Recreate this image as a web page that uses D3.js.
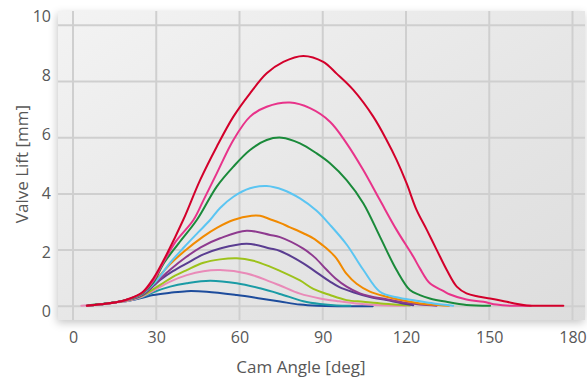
<!DOCTYPE html>
<html>
<head>
<meta charset="utf-8">
<script src="https://cdn.jsdelivr.net/npm/d3@7"></script>
<style>
  html, body { margin: 0; padding: 0; background: #ffffff; }
  svg { display: block; }
  text { font-family: "Open Sans", "Noto Sans", sans-serif; fill: #575757; }
</style>
</head>
<body>
<svg id="chart" width="587" height="381"></svg>
<script>
// ---- data (angle in deg, lift in mm) ----
const xTicks = [0, 30, 60, 90, 120, 150, 180];
const yTicks = [0, 2, 4, 6, 8, 10];
const xTitle = "Cam Angle [deg]";
const yTitle = "Valve Lift [mm]";

const liftDarkBlue = [[5,0.02],[10,0.07],[16,0.15],[20,0.2],[25,0.3],[28.9,0.4],[35,0.48],[41,0.54],[48.2,0.52],[59,0.4],[67.4,0.28],[74.6,0.17],[81.8,0.06],[88,0.02],[108,0.0]];
const liftTeal = [[5,0.02],[10,0.07],[16,0.15],[20,0.2],[25,0.33],[28.9,0.5],[35,0.7],[41,0.82],[49.4,0.91],[59,0.82],[67.4,0.64],[74.6,0.44],[83,0.18],[89,0.08],[95,0.03],[100,0.02]];
const liftLightPink = [[3,0.02],[10,0.07],[16,0.14],[20,0.2],[25,0.35],[28.9,0.55],[35,0.88],[41,1.11],[47,1.25],[53,1.29],[62.6,1.17],[71,0.88],[74.6,0.74],[81.8,0.45],[89,0.28],[95,0.19],[102,0.1],[109,0.05],[120,0.02]];
const liftYellowGreen = [[5,0.02],[10,0.07],[16,0.15],[20,0.22],[25,0.38],[31.4,0.76],[36,1.05],[41,1.29],[47,1.55],[53,1.67],[59,1.71],[65,1.62],[71,1.41],[74.6,1.26],[81.8,0.92],[86.6,0.62],[92.6,0.4],[98.6,0.22],[104.6,0.16],[112,0.09],[121.4,0.03]];
const liftIndigo = [[5,0.02],[10,0.07],[16,0.15],[20,0.23],[25,0.4],[31.4,0.94],[36,1.25],[41,1.53],[47,1.85],[53,2.06],[62.6,2.23],[71,2.06],[74.6,1.97],[83,1.53],[86.6,1.29],[92.6,0.88],[96,0.68],[101,0.5],[107,0.33],[113,0.22],[118,0.12],[122.6,0.04]];
const liftPurple = [[5,0.02],[10,0.07],[16,0.15],[20,0.24],[25,0.42],[30,0.85],[35,1.3],[41,1.77],[46,2.1],[53,2.42],[62.6,2.69],[71,2.54],[74.6,2.46],[83,2.05],[87,1.75],[91.4,1.3],[94.5,1.0],[98.6,0.7],[103.4,0.46],[107,0.36],[113,0.25],[119,0.14],[125,0.06],[131,0.02]];
const liftOrange = [[5,0.02],[10,0.07],[16,0.15],[20,0.24],[25,0.45],[30,0.95],[35,1.5],[40,1.95],[46.9,2.48],[52,2.8],[57.8,3.07],[64.4,3.22],[67.4,3.22],[71,3.1],[74.6,2.97],[78,2.82],[83,2.6],[86.6,2.42],[90,2.17],[92.6,1.95],[95,1.7],[98.6,1.15],[102.2,0.8],[107,0.52],[113,0.34],[121.4,0.16],[128.6,0.06],[135.5,0.02]];
const liftLightBlue = [[5,0.02],[10,0.07],[16,0.15],[20,0.24],[25,0.45],[30,0.9],[35,1.55],[40,2.1],[45,2.62],[49.4,3.07],[53,3.5],[57.8,3.9],[63.8,4.2],[69.8,4.28],[75.8,4.14],[81.8,3.84],[87.8,3.4],[92.6,2.9],[98.6,2.2],[104.6,1.3],[110.6,0.52],[116.6,0.32],[123.8,0.2],[130,0.1],[137,0.02]];
const liftGreen = [[5.5,0.04],[10,0.08],[16,0.15],[20,0.25],[25,0.46],[29,0.85],[32.5,1.5],[38,2.23],[44.6,3.07],[51.8,4.26],[57.8,4.97],[63.8,5.56],[69.8,5.92],[75.2,6.0],[81.8,5.8],[87.8,5.44],[92.6,5.09],[98.6,4.49],[104.6,3.67],[110.6,2.48],[116.6,1.29],[121.4,0.58],[125,0.4],[128.6,0.28],[134.6,0.16],[141.8,0.05],[150.3,0.02]];
const liftPink = [[5,0.02],[10,0.07],[16,0.15],[20,0.25],[25,0.48],[28.9,0.9],[32.5,1.55],[37,2.3],[43.4,3.07],[46.9,3.75],[51.8,4.73],[57.8,5.92],[63.8,6.75],[69.8,7.1],[78.2,7.25],[85.4,7.05],[92.6,6.57],[98.6,5.8],[104.6,4.85],[110.6,3.78],[116.6,2.72],[122.6,1.77],[125,1.35],[128.6,0.82],[133.4,0.55],[135.9,0.42],[141.8,0.24],[147.9,0.16],[152.6,0.06],[157.5,0.02],[165,0.02]];
const liftRed = [[5,0.02],[10,0.07],[16,0.15],[20,0.26],[25,0.5],[29,1.0],[34,1.9],[39.7,3.07],[45.8,4.49],[51.8,5.68],[57.8,6.75],[63.8,7.58],[69.8,8.29],[75.8,8.7],[83,8.91],[90.2,8.7],[95,8.28],[101,7.7],[108.2,6.75],[113,5.92],[116.6,5.21],[120.2,4.38],[123.8,3.43],[127.5,2.72],[131.1,2.0],[134.7,1.29],[138.3,0.7],[141.8,0.46],[146,0.35],[150.3,0.28],[154.5,0.2],[158.7,0.11],[163.5,0.03],[170,0.02],[176.7,0.02]];

const seriesList = [liftDarkBlue, liftTeal, liftLightPink, liftYellowGreen, liftIndigo, liftPurple, liftOrange, liftLightBlue, liftGreen, liftPink, liftRed];
const seriesColors = ["#1d4c9c", "#1a9ba5", "#e98ab8", "#9dc21b", "#5a3d91", "#8e3a8f", "#f18a00", "#5bc5f2", "#1a8a3a", "#e8338a", "#d3002b"];

// ---- layout ----
const svg = d3.select("#chart");
const panel = { left: 58, top: 11, right: 585, bottom: 320 };
const x = d3.scaleLinear().domain([0, 180]).range([73, 572.5]);
const y = d3.scaleLinear().domain([0, 10]).range([306.3, 25.3]);
const yLabel = d3.scaleLinear().domain([0, 10]).range([311, 16]);

const defs = svg.append("defs");
const grad = defs.append("linearGradient").attr("id", "bg")
  .attr("x1", "0").attr("y1", "0").attr("x2", "1").attr("y2", "1");
grad.append("stop").attr("offset", "0").attr("stop-color", "#f3f3f3");
grad.append("stop").attr("offset", "0.55").attr("stop-color", "#e6e6e6");
grad.append("stop").attr("offset", "1").attr("stop-color", "#dddddd");
const filt = defs.append("filter").attr("id", "shadow")
  .attr("x", "-10%").attr("y", "-10%").attr("width", "120%").attr("height", "125%");
filt.append("feDropShadow").attr("dx", -1).attr("dy", 3).attr("stdDeviation", 4)
  .attr("flood-color", "#000").attr("flood-opacity", 0.22);

svg.append("rect")
  .attr("x", panel.left).attr("y", panel.top)
  .attr("width", panel.right - panel.left).attr("height", panel.bottom - panel.top)
  .attr("fill", "url(#bg)").attr("filter", "url(#shadow)");

// grid
const grid = svg.append("g");
grid.selectAll("line.v").data(xTicks).join("line")
  .attr("x1", d => x(d)).attr("x2", d => x(d))
  .attr("y1", panel.top).attr("y2", panel.bottom)
  .attr("stroke", "#cfcfcf").attr("stroke-width", 2);
grid.selectAll("line.h").data(yTicks).join("line")
  .attr("x1", panel.left).attr("x2", panel.right)
  .attr("y1", d => y(d)).attr("y2", d => y(d))
  .attr("stroke", "#cfcfcf").attr("stroke-width", 2);

// axes (labels only)
const xAxis = svg.append("g").attr("transform", "translate(0,332)")
  .call(d3.axisBottom(x).tickValues(xTicks).tickSize(0).tickPadding(0));
xAxis.select(".domain").remove();
xAxis.selectAll("text").attr("font-size", "16px").attr("dy", "0.71em")
  .style("font-family", "'Open Sans', sans-serif").attr("fill", "#575757");

const yAxis = svg.append("g").attr("transform", "translate(51,0)")
  .call(d3.axisLeft(yLabel).tickValues(yTicks).tickSize(0).tickPadding(0));
yAxis.select(".domain").remove();
yAxis.selectAll("text").attr("font-size", "16px")
  .style("font-family", "'Open Sans', sans-serif").attr("fill", "#575757");

svg.append("text").attr("x", 301).attr("y", 373).attr("text-anchor", "middle")
  .attr("font-size", "17px").text(xTitle);
svg.append("text").attr("transform", "translate(28,164) rotate(-90)")
  .attr("text-anchor", "middle").attr("font-size", "17px").text(yTitle);

// lines
const line = d3.line().x(d => x(d[0])).y(d => y(d[1])).curve(d3.curveCatmullRom.alpha(0.5));
svg.append("g").selectAll("path").data(seriesList).join("path")
  .attr("d", line)
  .attr("fill", "none")
  .attr("stroke", (d, i) => seriesColors[i])
  .attr("stroke-width", 2)
  .attr("stroke-linejoin", "round")
  .attr("stroke-linecap", "round");
</script>
</body>
</html>
